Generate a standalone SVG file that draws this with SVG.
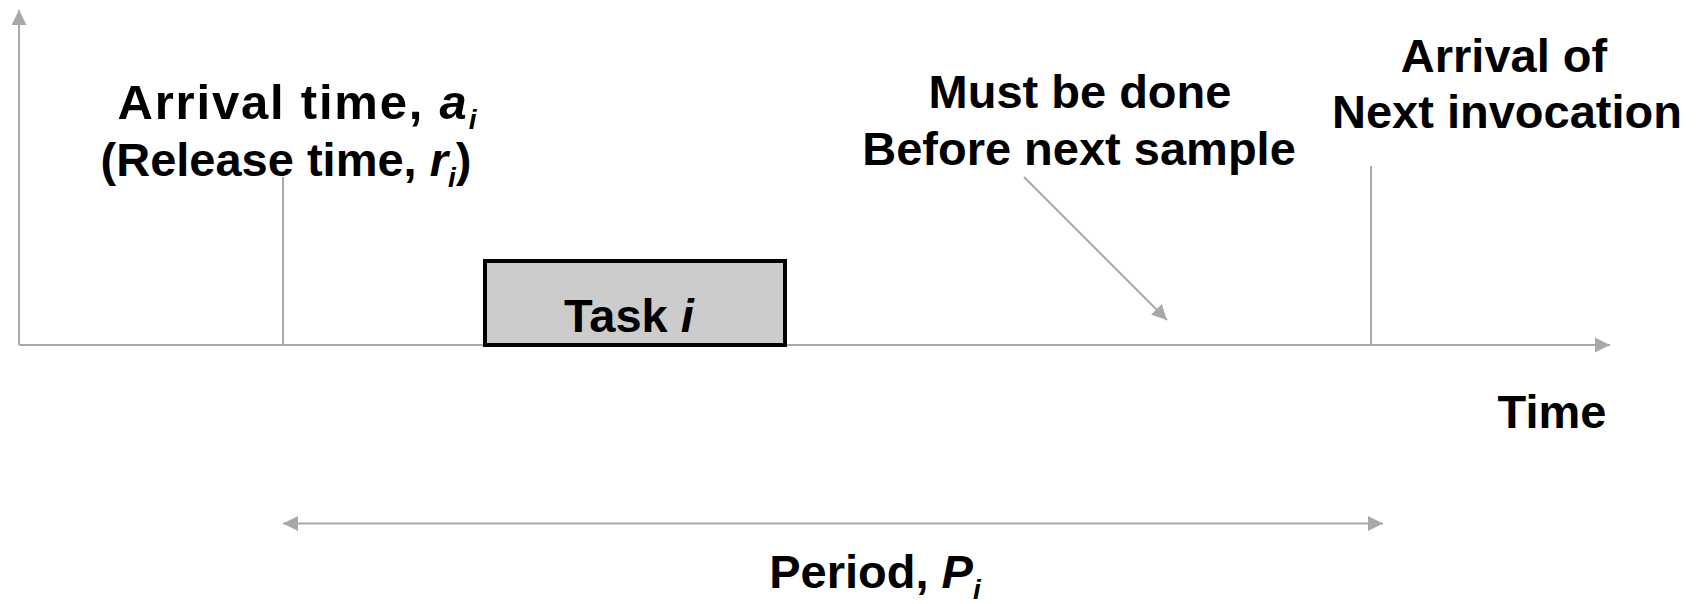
<svg xmlns="http://www.w3.org/2000/svg" width="1699" height="604" viewBox="0 0 1699 604">
  <style>
    .lbl { font-family: "Liberation Sans", Arial, sans-serif; font-weight: bold; font-size: 47px; fill: #000; text-anchor: middle; }
    .wide { font-size: 49px; letter-spacing: 1.8px; }
    .it { font-style: italic; }
    .sub { font-style: italic; font-size: 28px; letter-spacing: 0; }
    .ln { stroke: #a8a8a8; stroke-width: 2; fill: none; }
  </style>
  <defs>
    <marker id="ah" markerUnits="userSpaceOnUse" markerWidth="16" markerHeight="16" viewBox="0 0 16 16" refX="15" refY="8" orient="auto-start-reverse">
      <path d="M0,0.5 L15,8 L0,15.5 Z" fill="#a8a8a8"/>
    </marker>
  </defs>

  <rect width="1699" height="604" fill="#fff"/>

  <!-- axes, event markers and arrows -->
  <g id="connectors">
    <line class="ln" x1="19" y1="345" x2="19" y2="10" marker-end="url(#ah)"/>
    <line class="ln" x1="19" y1="345" x2="1610" y2="345" marker-end="url(#ah)"/>
    <line class="ln" x1="283" y1="177" x2="283" y2="345"/>
    <line class="ln" x1="1371" y1="166" x2="1371" y2="345"/>
    <line class="ln" x1="1024" y1="177" x2="1167" y2="320" marker-end="url(#ah)"/>
    <line class="ln" x1="283" y1="523.5" x2="1383" y2="523.5" marker-start="url(#ah)" marker-end="url(#ah)"/>
  </g>

  <g id="task">
    <rect x="485" y="261" width="300" height="84" fill="#cccccc" stroke="#000" stroke-width="4"/>
    <text class="lbl" x="629" y="332">Task <tspan class="it">i</tspan></text>
  </g>

  <g id="arrival">
    <text class="lbl wide" x="297" y="119">Arrival time, <tspan class="it">a</tspan><tspan class="sub" dy="10">i</tspan></text>
    <text class="lbl" x="286" y="176">(Release time, <tspan class="it">r</tspan><tspan class="sub" dy="11">i</tspan><tspan dy="-11">)</tspan></text>
  </g>

  <g id="deadline">
    <text class="lbl" x="1080" y="108">Must be done</text>
    <text class="lbl" x="1079" y="165">Before next sample</text>
  </g>

  <g id="next-arrival">
    <text class="lbl" x="1504" y="72">Arrival of</text>
    <text class="lbl" x="1507" y="128">Next invocation</text>
  </g>

  <g id="time-label">
    <text class="lbl" x="1552" y="428">Time</text>
  </g>

  <g id="period">
    <text class="lbl" x="875" y="588">Period, <tspan class="it">P</tspan><tspan class="sub" dy="11">i</tspan></text>
  </g>
</svg>
